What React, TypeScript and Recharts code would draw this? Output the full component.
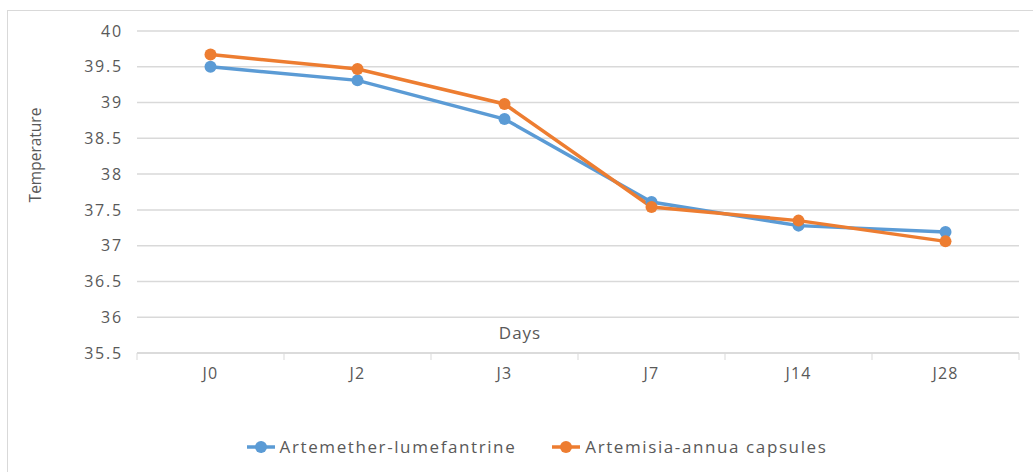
import React from 'react';
import {
  LineChart,
  Line,
  XAxis,
  YAxis,
  CartesianGrid,
  Legend,
} from 'recharts';

const days = ['J0', 'J2', 'J3', 'J7', 'J14', 'J28'];
const artemether = [39.5, 39.31, 38.77, 37.61, 37.28, 37.19];
const artemisia = [39.67, 39.47, 38.98, 37.54, 37.35, 37.06];
const yTicks = [35.5, 36, 36.5, 37, 37.5, 38, 38.5, 39, 39.5, 40];

const BLUE = '#5B9BD5';
const ORANGE = '#ED7D31';
const GRID = '#D9D9D9';
const TEXT = '#595959';
const FONT = '"Open Sans", Calibri, sans-serif';

const CHART_W = 1040;
const CHART_H = 470;
const MARGIN = { top: 20, right: 29, left: 0, bottom: 98 };
const Y_AXIS_W = 129;
const PLOT_W = CHART_W - MARGIN.left - MARGIN.right - Y_AXIS_W;
const BAND = PLOT_W / days.length;

const data = days.map((d, i) => ({
  day: d,
  artemether: artemether[i],
  artemisia: artemisia[i],
}));

// category ticks sit between bands, like the spreadsheet original
const DayTick = (props: any) => {
  const { x, y, payload, index } = props;
  const last = index === days.length - 1;
  return (
    <g>
      <line x1={x - BAND / 2} x2={x - BAND / 2} y1={y} y2={y + 7} stroke={GRID} />
      {last && (
        <line x1={x + BAND / 2} x2={x + BAND / 2} y1={y} y2={y + 7} stroke={GRID} />
      )}
      <text
        x={x}
        y={y + 26}
        textAnchor="middle"
        fill={TEXT}
        fontSize={16}
        fontFamily={FONT}
        letterSpacing={1.2}
      >
        {payload.value}
      </text>
    </g>
  );
};

const LegendContent = () => {
  const items = [
    { name: 'Artemether-lumefantrine', color: BLUE },
    { name: 'Artemisia-annua capsules', color: ORANGE },
  ];
  return (
    <div
      style={{
        display: 'flex',
        justifyContent: 'center',
        gap: 36,
        paddingLeft: 18,
        fontFamily: FONT,
        fontSize: 17,
        letterSpacing: 1.6,
        color: TEXT,
      }}
    >
      {items.map((it) => (
        <div key={it.name} style={{ display: 'flex', alignItems: 'center', gap: 5 }}>
          <svg width={28} height={14}>
            <line x1={0} x2={28} y1={7} y2={7} stroke={it.color} strokeWidth={3.5} />
            <circle cx={14} cy={7} r={6} fill={it.color} />
          </svg>
          <span>{it.name}</span>
        </div>
      ))}
    </div>
  );
};

export default function App() {
  return (
    <div
      style={{
        position: 'fixed',
        left: 7,
        top: 10,
        border: `1px solid ${GRID}`,
        width: CHART_W,
        height: CHART_H,
        background: '#fff',
      }}
    >
      <LineChart width={CHART_W} height={CHART_H} data={data} margin={MARGIN}>
        <CartesianGrid vertical={false} stroke={GRID} strokeWidth={1.5} />
        <XAxis
          dataKey="day"
          padding={{ left: BAND / 2, right: BAND / 2 }}
          axisLine={{ stroke: GRID, strokeWidth: 1.5 }}
          tickLine={false}
          tickSize={0}
          tickMargin={0}
          height={30}
          tick={<DayTick />}
          label={{
            value: 'Days',
            position: 'top',
            offset: 14,
            dx: -58,
            fill: TEXT,
            fontSize: 17,
            fontFamily: FONT,
            letterSpacing: 1,
          }}
        />
        <YAxis
          width={Y_AXIS_W}
          domain={[35.5, 40]}
          ticks={yTicks}
          axisLine={false}
          tickLine={false}
          tickSize={0}
          tickMargin={14}
          tick={{ fill: TEXT, fontSize: 16, fontFamily: FONT, letterSpacing: 1.8 }}
          label={{
            value: 'Temperature',
            angle: -90,
            position: 'center',
            dx: -37,
            dy: -37,
            fill: TEXT,
            fontSize: 15.5,
            fontFamily: FONT,
          }}
        />
        <Legend
          verticalAlign="middle"
          content={<LegendContent />}
          wrapperStyle={{ top: 424, left: 0, width: CHART_W }}
        />
        <Line
          dataKey="artemether"
          name="Artemether-lumefantrine"
          stroke={BLUE}
          strokeWidth={3.5}
          dot={{ r: 6, fill: BLUE, stroke: BLUE, strokeWidth: 0 }}
          activeDot={false}
          isAnimationActive={false}
        />
        <Line
          dataKey="artemisia"
          name="Artemisia-annua capsules"
          stroke={ORANGE}
          strokeWidth={3.5}
          dot={{ r: 6, fill: ORANGE, stroke: ORANGE, strokeWidth: 0 }}
          activeDot={false}
          isAnimationActive={false}
        />
      </LineChart>
    </div>
  );
}
